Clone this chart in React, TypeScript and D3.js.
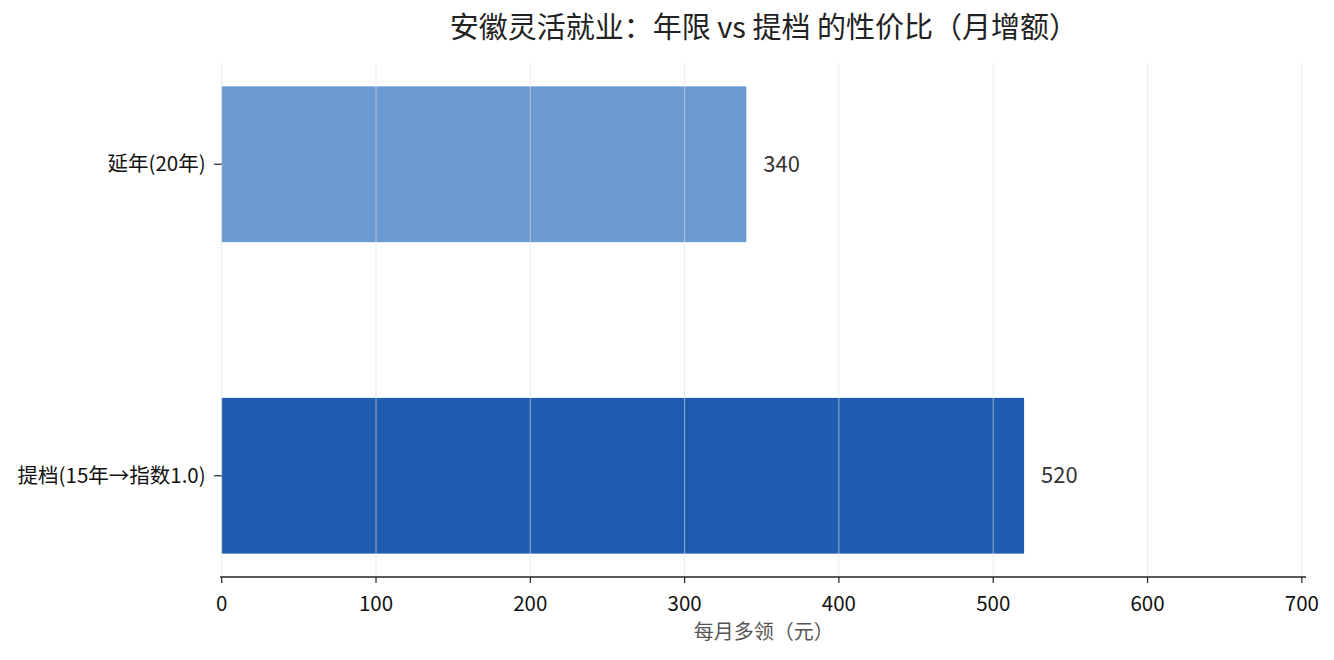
import * as d3 from 'd3';

const categories = ['延年(20年)', '提档(15年→指数1.0)'];
const values = [340, 520];
const barColors = ['#6c9bd3', '#1f5bae'];
const xTicks = [0, 100, 200, 300, 400, 500, 600, 700];
const title = '安徽灵活就业：年限 vs 提档 的性价比（月增额）';
const xLabel = '每月多领（元）';

const width = 1334;
const height = 660;
const margin = { left: 221.7, right: 28, top: 63, bottom: 83 };
const font = '"Noto Sans CJK SC", "Noto Sans", sans-serif';
const xMax = 702.7;

export default function App() {
  const x = d3
    .scaleLinear()
    .domain([0, xMax])
    .range([margin.left, width - margin.right]);

  // bars of height 0.5 at integer positions, matplotlib-style 5% padding
  const y = d3
    .scaleLinear()
    .domain([-0.325, 1.325])
    .range([margin.top, height - margin.bottom]);

  const barH = y(0.5) - y(0);
  const axisY = height - margin.bottom;
  const midX = (x(0) + x(xMax)) / 2;

  return (
    <div style={{ position: 'fixed', left: 0, top: 0 }}>
      <svg width={width} height={height} style={{ fontFamily: font, display: 'block' }}>
        <rect width={width} height={height} fill="white" />
        {categories.map((c, i) => (
          <rect
            key={c}
            x={x(0)}
            y={y(i) - barH / 2}
            width={x(values[i]) - x(0)}
            height={barH}
            fill={barColors[i]}
          />
        ))}
        {/* grid drawn over the bars */}
        {xTicks.map((t) => (
          <line
            key={t}
            x1={x(t)}
            x2={x(t)}
            y1={margin.top}
            y2={axisY}
            stroke="#dedede"
            strokeOpacity={0.7}
            strokeWidth={0.9}
          />
        ))}
        {categories.map((c, i) => (
          <text
            key={c}
            x={x(values[i] + 11)}
            y={y(i)}
            dy="0.35em"
            fontSize={22}
            fill="#333"
          >
            {values[i]}
          </text>
        ))}
        {/* y axis ticks and labels */}
        {categories.map((c, i) => (
          <g key={c}>
            <line x1={x(0) - 7.5} x2={x(0)} y1={y(i)} y2={y(i)} stroke="#222" strokeWidth={1.2} />
            <text
              x={x(0) - 16}
              y={y(i)}
              dy="0.35em"
              textAnchor="end"
              fontSize={20.5}
              fill="#111"
            >
              {c}
            </text>
          </g>
        ))}
        {/* x axis */}
        <line x1={x(0) - 1.5} x2={x(xMax)} y1={axisY} y2={axisY} stroke="#222" strokeWidth={1.5} />
        {xTicks.map((t) => (
          <g key={t}>
            <line x1={x(t)} x2={x(t)} y1={axisY} y2={axisY + 6} stroke="#222" strokeWidth={1.2} />
            <text x={x(t)} y={axisY + 34} textAnchor="middle" fontSize={20.5} fill="#111">
              {t}
            </text>
          </g>
        ))}
        <text x={midX} y={axisY + 62} textAnchor="middle" fontSize={20} fill="#555">
          {xLabel}
        </text>
        <text x={midX} y={37.5} textAnchor="middle" fontSize={29} fill="#222">
          {title}
        </text>
      </svg>
    </div>
  );
}
